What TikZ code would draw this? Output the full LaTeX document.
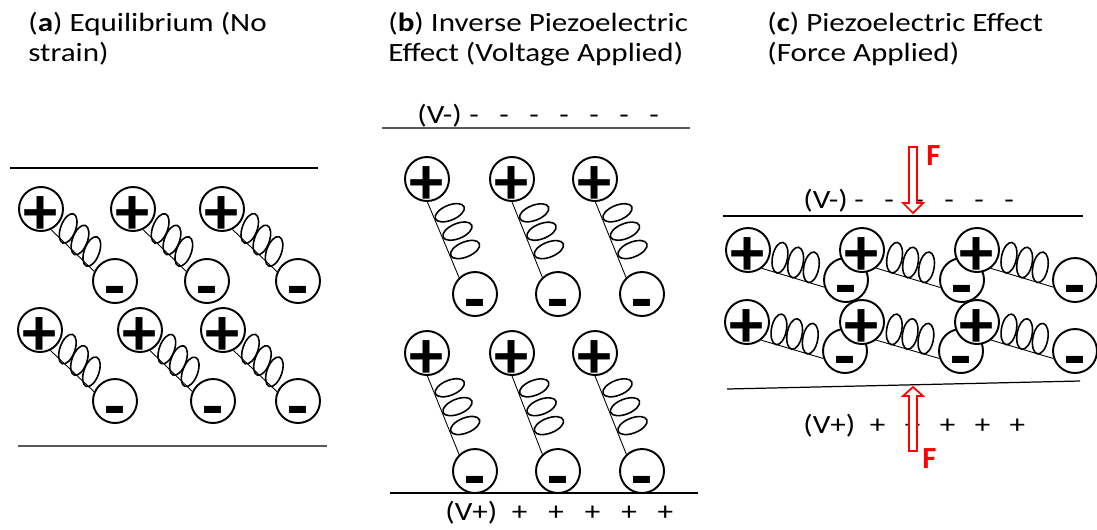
\documentclass[tikz,border=0pt]{standalone}
\usepackage{fontspec}
\setmainfont{Carlito}[FakeStretch=1.18]
\newfontfamily\ionfont{Carlito}

\newcommand{\charge}[2]{\makebox[0pt]{\raisebox{#2}[0pt][0pt]{#1}}}
\newcommand{\dipole}[5]{%
  \node[ion] (#1p) at (#2,-#3) {\charge{+}{-0.37em}};
  \node[ion] (#1m) at (#4,-#5) {\charge{-}{-0.42em}};
  \pgfmathsetmacro\dipang{atan2(#3-#5,#4-#2)}
  \pgfmathsetmacro\diplen{veclen(#4-#2,#5-#3)}
  \pgfmathtruncatemacro\pang{\dipang-\springdrop}
  \pgfmathtruncatemacro\mang{\dipang+180+\springdrop}
  \draw[spring] (#1p.\pang) -- (#1m.\mang);
  \begin{scope}[shift={(#1p.center)}, rotate=\dipang]
    \foreach \f in {0.32,0.48,0.64}
      \draw[coil, rotate around={\springtilt:(\f*\diplen,\springlift)}]
        (\f*\diplen,\springlift) ellipse (7.5 and 15.5);
  \end{scope}
}

\tikzset{
  spring drop/.store in=\springdrop,
  spring lift/.store in=\springlift,
  spring tilt/.store in=\springtilt,
  spring drop=20, spring lift=5, spring tilt=0
}

\begin{document}
\begin{tikzpicture}[
    x=0.02cm, y=0.02cm,
    ion/.style={circle, draw, fill=white, line width=1.1pt, minimum size=0.88cm, inner sep=0pt, font=\ionfont\fontsize{39}{39}\selectfont\bfseries},
    spring/.style={line width=0.5pt},
    coil/.style={line width=0.9pt},
    plate/.style={line width=0.7pt},
    heavy plate/.style={line width=1.3pt, black!65},
    title/.style={anchor=base west, align=left, inner sep=0pt, font=\fontsize{15}{17}\selectfont},
    volt/.style={anchor=base west, inner sep=0pt, font=\fontsize{15}{17}\selectfont},
    force/.style={draw=red, fill=white, line width=1pt},
    force label/.style={anchor=base west, inner sep=0pt, text=red, font=\ionfont\fontsize{17.5}{17.5}\selectfont\bfseries}
]
\useasboundingbox (0,0) rectangle (1097,-529);

% titles (base is the second line)
\node[title] (ta) at (28,-61) {(\textbf{a}) Equilibrium (No\\strain)};
\node[title] (tb) at (388,-61) {(\textbf{b}) Inverse Piezoelectric\\Effect (Voltage Applied)};
\node[title] (tc) at (767,-61) {(\textbf{c}) Piezoelectric Effect\\(Force Applied)};

% (a) no strain
\begin{scope}[spring drop=20, spring lift=5, spring tilt=24]
\draw[plate] (10,-168) -- (318,-168);
\draw[heavy plate] (18,-446) -- (327,-446);
\dipole{a1}{41}{209}{115}{281}
\dipole{a2}{133}{209}{207}{281}
\dipole{a3}{222}{209}{298}{281}
\dipole{a4}{40}{330}{115}{401}
\dipole{a5}{140}{330}{213}{401}
\dipole{a6}{223}{330}{298}{401}
\end{scope}

% (b) voltage applied
\begin{scope}[spring drop=22, spring lift=8, spring tilt=0]
\draw[heavy plate] (382,-128) -- (690,-128);
\draw[plate] (390,-493) -- (698,-493);
\node[volt] (vb-) at (417,-123) {(V-)\hspace{0.15cm}-\hspace{0.41cm}-\hspace{0.41cm}-\hspace{0.41cm}-\hspace{0.41cm}-\hspace{0.41cm}-\hspace{0.41cm}-};
\node[volt] (vb+) at (445,-520) {(V+)\hspace{0.29cm}+\hspace{0.42cm}+\hspace{0.42cm}+\hspace{0.42cm}+\hspace{0.42cm}+};
\dipole{b1}{427}{179}{475}{294}
\dipole{b2}{512}{179}{558}{294}
\dipole{b3}{595}{179}{642}{294}
\dipole{b4}{427}{353}{475}{471}
\dipole{b5}{512}{353}{558}{471}
\dipole{b6}{595}{353}{642}{471}
\end{scope}

% (c) force applied
\begin{scope}[spring drop=36, spring lift=2, spring tilt=6]
\node[volt] (vc-) at (803,-208) {(V-)\hspace{0.13cm}-\hspace{0.41cm}-\hspace{0.41cm}-\hspace{0.41cm}-\hspace{0.41cm}-\hspace{0.41cm}-};
\node[volt] (vc+) at (803,-433) {(V+)\hspace{0.29cm}+\hspace{0.39cm}+\hspace{0.39cm}+\hspace{0.39cm}+\hspace{0.39cm}+};
\draw[plate] (723,-216) -- (1083,-216);
\draw[plate] (727,-389) -- (1080,-381);
\dipole{c1}{748}{250}{846}{280}
\dipole{c2}{862}{250}{962}{280}
\dipole{c3}{977}{250}{1075}{280}
\dipole{c4}{747}{322}{845}{351}
\dipole{c5}{862}{322}{961}{351}
\dipole{c6}{977}{322}{1075}{351}
\draw[force] (913,-213) -- ++(10,10) -- ++(-6,0) -- ++(0,56) -- ++(-8,0) -- ++(0,-56) -- ++(-6,0) -- cycle;
\draw[force] (913,-387) -- ++(10,-9) -- ++(-6,0) -- ++(0,-55) -- ++(-8,0) -- ++(0,55) -- ++(-6,0) -- cycle;
\node[force label] (fdown) at (926,-165) {F};
\node[force label] (fup) at (922,-468) {F};
\end{scope}
\end{tikzpicture}
\end{document}
